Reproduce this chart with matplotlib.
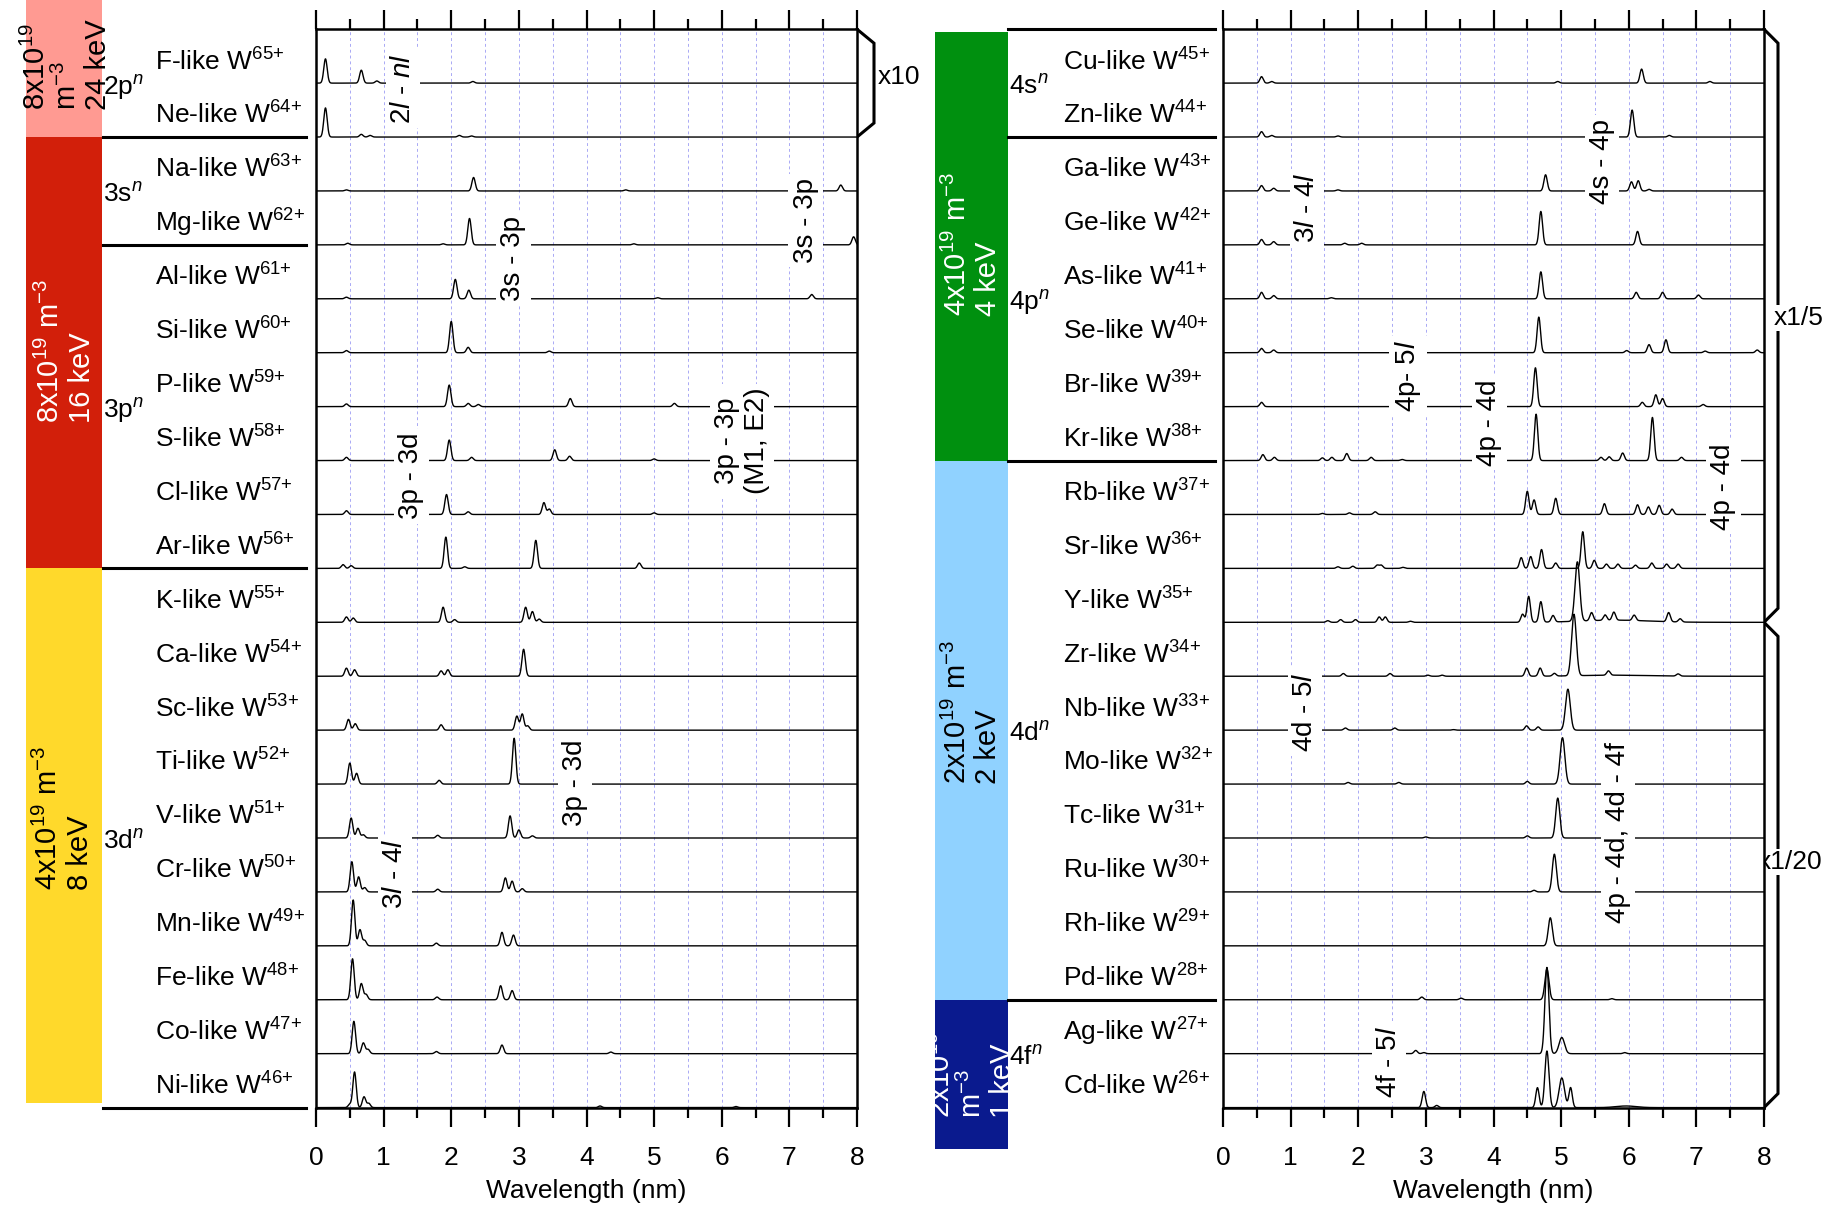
import numpy as np
import matplotlib.pyplot as plt
from matplotlib.patches import Rectangle

plt.rcParams['font.family'] = ['Liberation Sans', 'DejaVu Sans']
plt.rcParams['mathtext.fontset'] = 'custom'
plt.rcParams['mathtext.rm'] = 'Liberation Sans'
plt.rcParams['mathtext.it'] = 'Liberation Sans:italic'
plt.rcParams['mathtext.default'] = 'regular'

# isoelectronic sequences, top to bottom in each panel
left_ions = ["F", "Ne", "Na", "Mg", "Al", "Si", "P", "S", "Cl", "Ar",
             "K", "Ca", "Sc", "Ti", "V", "Cr", "Mn", "Fe", "Co", "Ni"]
left_charges = [65, 64, 63, 62, 61, 60, 59, 58, 57, 56,
                55, 54, 53, 52, 51, 50, 49, 48, 47, 46]
right_ions = ["Cu", "Zn", "Ga", "Ge", "As", "Se", "Br", "Kr", "Rb", "Sr",
              "Y", "Zr", "Nb", "Mo", "Tc", "Ru", "Rh", "Pd", "Ag", "Cd"]
right_charges = [45, 44, 43, 42, 41, 40, 39, 38, 37, 36,
                 35, 34, 33, 32, 31, 30, 29, 28, 27, 26]

# outer shell groups: (name, first row, last row + 1)
left_groups = [("2p", 0, 2), ("3s", 2, 4), ("3p", 4, 10), ("3d", 10, 20)]
right_groups = [("4s", 0, 2), ("4p", 2, 8), ("4d", 8, 18), ("4f", 18, 20)]

# plasma conditions for each coloured bar
left_plasma = ["8x10$^{19}$\nm$^{-3}$\n24 keV",
               "8x10$^{19}$ m$^{-3}$\n16 keV",
               "4x10$^{19}$ m$^{-3}$\n8 keV"]
right_plasma = ["4x10$^{19}$ m$^{-3}$\n4 keV",
                "2x10$^{19}$ m$^{-3}$\n2 keV",
                "2x10$^{19}$\nm$^{-3}$\n1 keV"]

# line lists: (wavelength nm, intensity in row units[, width nm])
peaks_2p = [
    [(0.14, 0.45), (0.67, 0.24), (0.9, 0.04), (2.32, 0.03)],
    [(0.14, 0.54), (0.67, 0.05), (0.8, 0.03), (2.12, 0.03), (2.3, 0.02)],
]
peaks_3s = [
    [(0.45, 0.02), (2.33, 0.25), (4.58, 0.02), (7.76, 0.11)],
    [(0.47, 0.03), (1.88, 0.02), (2.27, 0.49), (4.7, 0.02), (7.95, 0.15)],
]
peaks_3p = [
    [(0.45, 0.03), (2.06, 0.36), (2.26, 0.16), (5.05, 0.02), (7.33, 0.08)],
    [(0.45, 0.04), (2.0, 0.58), (2.25, 0.1), (3.45, 0.03)],
    [(0.45, 0.05), (1.97, 0.4), (2.25, 0.06), (2.4, 0.04), (3.76, 0.15), (5.3, 0.06)],
    [(0.45, 0.06), (1.97, 0.38), (2.3, 0.06), (3.53, 0.2), (3.75, 0.08), (5.0, 0.03)],
    [(0.45, 0.07), (1.93, 0.37), (2.25, 0.05), (3.37, 0.22), (3.45, 0.1), (5.0, 0.03)],
    [(0.4, 0.07), (0.52, 0.05), (1.92, 0.58), (2.2, 0.03), (3.25, 0.52), (4.78, 0.1)],
]
peaks_3d = [
    [(0.45, 0.1), (0.55, 0.08), (1.88, 0.28), (2.05, 0.05), (3.1, 0.28), (3.2, 0.2), (3.3, 0.06)],
    [(0.45, 0.15), (0.57, 0.12), (1.85, 0.1), (1.95, 0.12), (3.07, 0.5)],
    [(0.48, 0.2), (0.58, 0.12), (1.85, 0.1), (2.97, 0.26), (3.05, 0.3), (3.13, 0.08)],
    [(0.5, 0.39), (0.6, 0.2), (1.82, 0.07), (2.93, 0.85)],
    [(0.52, 0.37), (0.62, 0.18), (0.7, 0.06), (1.8, 0.05), (2.87, 0.41), (3.0, 0.15), (3.2, 0.04)],
    [(0.53, 0.56), (0.63, 0.28), (0.72, 0.08), (1.8, 0.05), (2.8, 0.26), (2.9, 0.2), (3.05, 0.06)],
    [(0.55, 0.85), (0.65, 0.3), (0.72, 0.1), (1.78, 0.05), (2.75, 0.25), (2.92, 0.2)],
    [(0.54, 0.76), (0.67, 0.3), (0.74, 0.1), (1.79, 0.05), (2.73, 0.26), (2.9, 0.17)],
    [(0.56, 0.6), (0.7, 0.2), (0.77, 0.08), (1.78, 0.04), (2.75, 0.16), (4.36, 0.03)],
    [(0.5, 0.06), (0.57, 0.66), (0.71, 0.2), (0.78, 0.08), (4.2, 0.03), (6.21, 0.02)],
]
peaks_4s = [
    [(0.57, 0.12), (0.72, 0.03), (4.95, 0.03), (6.19, 0.26), (7.2, 0.03)],
    [(0.57, 0.1), (0.72, 0.03), (1.7, 0.02), (6.05, 0.5), (6.6, 0.03)],
]
peaks_4p = [
    [(0.57, 0.1), (0.75, 0.05), (1.7, 0.02), (4.77, 0.3), (6.04, 0.17), (6.14, 0.19), (6.3, 0.03)],
    [(0.57, 0.1), (0.75, 0.06), (1.8, 0.03), (2.05, 0.03), (4.7, 0.62), (6.13, 0.25)],
    [(0.57, 0.12), (0.75, 0.06), (1.6, 0.02), (4.7, 0.5), (6.11, 0.12), (6.5, 0.12), (7.03, 0.07)],
    [(0.57, 0.08), (0.75, 0.05), (4.67, 0.66), (5.97, 0.04), (6.3, 0.15), (6.55, 0.24),
     (7.13, 0.03), (7.9, 0.05)],
    [(0.57, 0.08), (4.62, 0.72), (6.2, 0.08), (6.4, 0.22), (6.5, 0.15), (7.1, 0.04)],
    [(0.59, 0.11), (0.76, 0.06), (1.47, 0.05), (1.61, 0.06), (1.83, 0.13), (2.19, 0.06),
     (2.65, 0.02), (4.63, 0.86), (5.59, 0.06), (5.71, 0.07), (5.91, 0.14), (6.35, 0.8), (6.78, 0.06)],
]
peaks_4d = [
    [(1.47, 0.02), (1.87, 0.03), (2.25, 0.05), (4.5, 0.43), (4.6, 0.27), (4.92, 0.3),
     (5.64, 0.2), (6.13, 0.18), (6.29, 0.14), (6.45, 0.17), (6.64, 0.1)],
    [(1.7, 0.03), (1.92, 0.04), (2.28, 0.06), (2.34, 0.06), (2.66, 0.02), (4.41, 0.2),
     (4.55, 0.22), (4.71, 0.35), (4.92, 0.1), (5.32, 0.68), (5.49, 0.15), (5.67, 0.08),
     (5.84, 0.08), (6.1, 0.06), (6.34, 0.1), (6.56, 0.08), (6.73, 0.08)],
    [(1.55, 0.03), (1.74, 0.05), (1.96, 0.05), (2.31, 0.1), (2.4, 0.1), (2.77, 0.02),
     (4.43, 0.15), (4.52, 0.48), (4.7, 0.38), (4.88, 0.12), (5.24, 1.1, 0.035),
     (5.45, 0.15), (5.65, 0.1), (5.78, 0.15), (6.08, 0.1), (6.59, 0.17), (6.76, 0.06),
     (5.8, 0.04, 0.5)],
    [(1.78, 0.05), (2.47, 0.05), (3.03, 0.02), (3.24, 0.02), (4.49, 0.15), (4.69, 0.15),
     (4.9, 0.05), (5.19, 1.14, 0.035), (5.7, 0.08), (6.73, 0.04), (5.8, 0.02, 0.5)],
    [(1.81, 0.04), (2.54, 0.04), (3.41, 0.01), (4.49, 0.08), (4.66, 0.06), (5.1, 0.76, 0.035)],
    [(1.85, 0.03), (2.6, 0.03), (4.5, 0.05), (5.02, 0.86, 0.035)],
    [(3.0, 0.02), (4.5, 0.04), (4.95, 0.74, 0.03)],
    [(4.6, 0.03), (4.9, 0.7, 0.03)],
    [(4.84, 0.52, 0.03)],
    [(2.94, 0.05), (3.52, 0.03), (4.79, 0.57, 0.03), (5.75, 0.02)],
]
peaks_4f = [
    [(2.85, 0.06), (2.97, 0.02), (4.79, 1.6, 0.03), (5.01, 0.3, 0.04), (5.94, 0.02)],
    [(2.97, 0.3), (3.16, 0.04), (4.65, 0.37), (4.79, 1.05, 0.03), (5.01, 0.55, 0.04),
     (5.14, 0.37), (5.96, 0.03, 0.15)],
]

# transition labels: (text, wavelength, row height)
left_notes = [
    ("2$\\mathit{l}$ - $\\mathit{nl}$", 1.29, 18.9),
    ("3s - 3p", 2.92, 15.75),
    ("3s - 3p", 7.24, 16.45),
    ("3p - 3d", 1.41, 11.71),
    ("3p - 3p\n(M1, E2)", 6.3, 12.36),
    ("3p - 3d", 3.83, 6.02),
    ("3$\\mathit{l}$ - 4$\\mathit{l}$", 1.17, 4.33),
]
right_notes = [
    ("3$\\mathit{l}$ - 4$\\mathit{l}$", 1.24, 16.68),
    ("4s - 4p", 5.6, 17.54),
    ("4p- 5$\\mathit{l}$", 2.74, 13.56),
    ("4p - 4d", 3.94, 12.7),
    ("4p - 4d", 7.4, 11.52),
    ("4d - 5$\\mathit{l}$", 1.21, 7.34),
    ("4p - 4d, 4d - 4f", 5.84, 5.11),
    ("4f - 5$\\mathit{l}$", 2.45, 0.85),
]

W, H = 1832, 1209
ax_top, ax_bot = 29.2, 1107.6
row_px = (ax_bot - ax_top) / 20
wl = np.linspace(0, 8, 4001)


def base_px(j):
    return ax_top + (j + 1) * row_px


def spectrum(peaks):
    y = np.zeros_like(wl)
    for p in peaks:
        w = p[2] if len(p) > 2 else 0.025
        y += p[1] * np.exp(-0.5 * ((wl - p[0]) / w) ** 2)
    return y


fig = plt.figure(figsize=(W / 100, H / 100), dpi=100)
ov = fig.add_axes([0, 0, 1, 1])
ov.set_zorder(-1)
ov.set_xlim(0, W)
ov.set_ylim(H, 0)
ov.axis('off')


def draw_panel(x0, ions, charges, spectra, notes):
    ax = fig.add_axes([x0 / W, 1 - ax_bot / H, 541 / W, (ax_bot - ax_top) / H])
    ax.set_xlim(0, 8)
    ax.set_ylim(0, 20)
    ax.set_yticks([])
    ax.set_xticks(range(9))
    ax.set_xticks(np.arange(0.5, 8, 1), minor=True)
    ax.tick_params(axis='x', which='both', direction='out', top=True, bottom=True,
                   labelsize=19, width=1.6, pad=14)
    ax.tick_params(axis='x', which='major', length=14)
    ax.tick_params(axis='x', which='minor', length=7)
    for s in ax.spines.values():
        s.set_linewidth(1.8)
    for xg in np.arange(0.5, 8, 0.5):
        ax.axvline(xg, color='#a9a9f5', lw=0.7, ls=(0, (3, 3)), zorder=0)
    for j, peaks in enumerate(spectra):
        ax.plot(wl, 19 - j + spectrum(peaks), color='k', lw=1.0, zorder=2)
    for txt, xn, yn in notes:
        ax.text(xn, yn, txt, rotation=90, ha='center', va='center', fontsize=20,
                multialignment='center', zorder=5,
                bbox=dict(fc='white', ec='none', pad=3))
    ax.set_xlabel('Wavelength (nm)', fontsize=19, labelpad=6)

    lx = x0 - 161 if x0 < 900 else x0 - 160
    for j, (ion, q) in enumerate(zip(ions, charges)):
        ov.text(lx, base_px(j) - 13, f"{ion}-like W$^{{{q}{{+}}}}$", fontsize=19,
                ha='left', va='baseline')
    return ax


draw_panel(316, left_ions, left_charges, peaks_2p + peaks_3s + peaks_3p + peaks_3d, left_notes)
draw_panel(1223, right_ions, right_charges, peaks_4s + peaks_4p + peaks_4d + peaks_4f, right_notes)

# shell group labels and separators
for name, a, b in left_groups:
    top = ax_top if a == 0 else base_px(a - 1)
    ov.text(103, (top + base_px(b - 1)) / 2 + 4, name + "$^{\\mathit{n}}$", fontsize=19,
            ha='left', va='center')
    ov.plot([103, 306], [base_px(b - 1)] * 2, color='k', lw=2.2)
for name, a, b in right_groups:
    top = ax_top if a == 0 else base_px(a - 1)
    ov.text(1009, (top + base_px(b - 1)) / 2 + 4, name + "$^{\\mathit{n}}$", fontsize=19,
            ha='left', va='center')
    ov.plot([1008, 1215], [top] * 2, color='k', lw=2.2)

# plasma condition bars
left_bars = [(0, base_px(1), '#ff9a92', 'k'),
             (base_px(1), base_px(9), '#d21f0a', 'white'),
             (base_px(9), 1103, '#ffd92b', 'k')]
right_bars = [(31.5, base_px(7), '#00900f', 'white'),
              (base_px(7), base_px(17), '#90d2ff', 'k'),
              (base_px(17), 1149, '#0a1a8e', 'white')]

for (y0, y1, fc, tc), txt, (cx, cy, va) in zip(
        left_bars, left_plasma, [(67, 110, 'bottom'), (66, 351, 'center'), (64, 818, 'center')]):
    ov.add_patch(Rectangle((26, y0), 76, y1 - y0, fc=fc, ec='none'))
    ov.text(cx, cy, txt, rotation=90, ha='center', va=va, fontsize=21, color=tc,
            multialignment='left', linespacing=1.1)

for (y0, y1, fc, tc), txt, (cx, cy, va) in zip(
        right_bars, right_plasma, [(972, 244, 'center'), (972, 712, 'center'), (972, 1118, 'bottom')]):
    rect = Rectangle((935, y0), 73, y1 - y0, fc=fc, ec='none')
    ov.add_patch(rect)
    t = ov.text(cx, cy, txt, rotation=90, ha='center', va=va, fontsize=21, color=tc,
                multialignment='left', linespacing=1.1)
    t.set_clip_path(rect)

# intensity scaling brackets
ov.plot([857, 874, 874, 857], [ax_top, ax_top + 14, base_px(1) - 14, base_px(1)],
        color='k', lw=2.2, solid_joinstyle='miter')
ov.text(878, 77, 'x10', fontsize=19, ha='left', va='center')
yn = base_px(10)
ov.plot([1764, 1778, 1778, 1764, 1778, 1778, 1764],
        [ax_top, ax_top + 14, yn - 14, yn, yn + 14, ax_bot - 14, ax_bot],
        color='k', lw=2.2, solid_joinstyle='miter')
ov.text(1774, 318, 'x1/5', fontsize=19, ha='left', va='center',
        bbox=dict(fc='white', ec='none', pad=1))
ov.text(1758, 862, 'x1/20', fontsize=19, ha='left', va='center',
        bbox=dict(fc='white', ec='none', pad=1))

fig.savefig('out.png', dpi=100)
